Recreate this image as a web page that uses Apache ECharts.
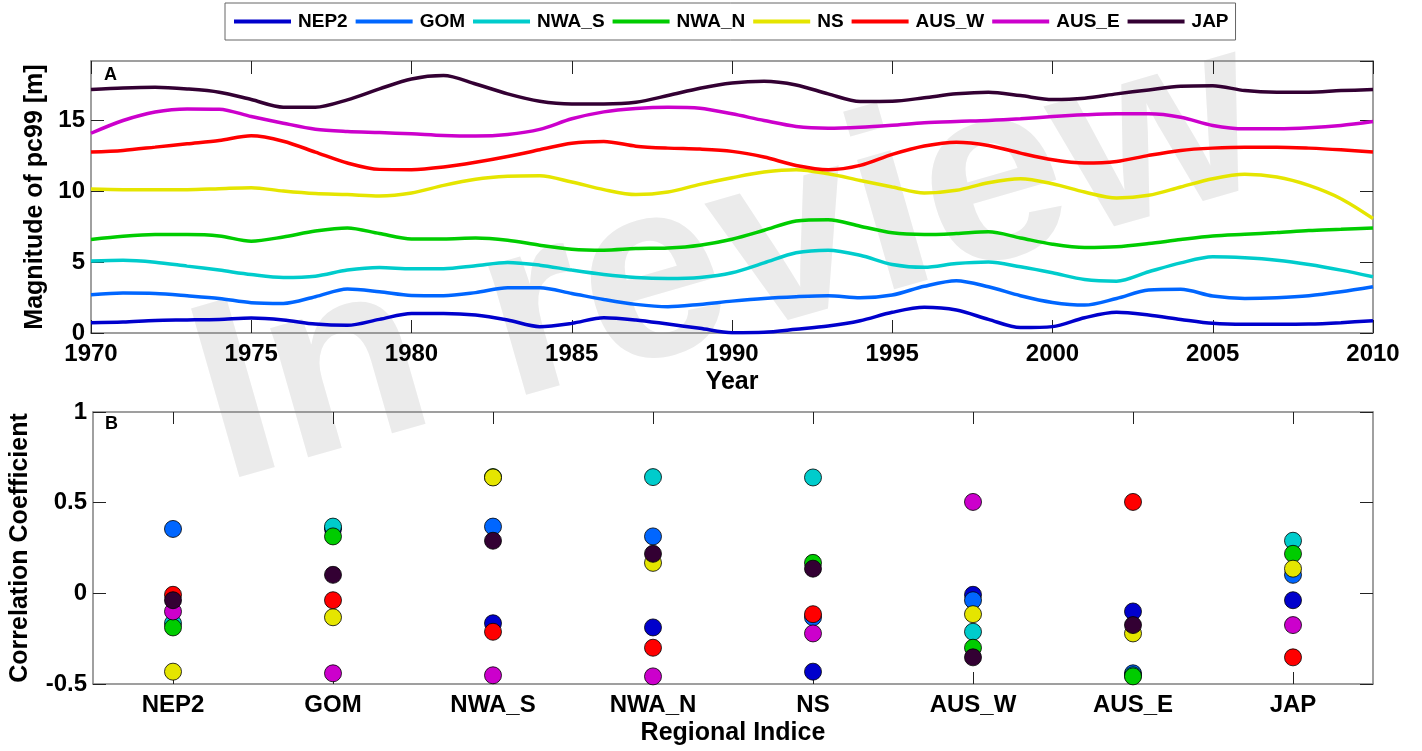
<!DOCTYPE html>
<html>
<head>
<meta charset="utf-8">
<script src="https://cdn.jsdelivr.net/npm/echarts@6/dist/echarts.min.js"></script>
<style>
  html, body { margin: 0; padding: 0; background: #fff; }
  #chart { width: 1422px; height: 751px; }
</style>
</head>
<body>
<div id="chart"></div>
<script>
// Regions, in plotting order
const regions = ['NEP2', 'GOM', 'NWA_S', 'NWA_N', 'NS', 'AUS_W', 'AUS_E', 'JAP'];
const colors = ['#0000CC', '#0066FF', '#00CCCC', '#00CC00', '#E5E500', '#FF0000', '#CC00CC', '#330033'];

// Years 1970..2010
const years = [];
for (let y = 1970; y <= 2010; y++) years.push(y);

// Panel A: magnitude of pc99 [m], one value per year
const pcNEP2 = [0.73, 0.77, 0.89, 0.92, 0.96, 1.06, 0.92, 0.63, 0.54, 0.96,
  1.38, 1.38, 1.27, 0.92, 0.45, 0.68, 1.08, 0.92, 0.63, 0.33,
  0.02, 0.05, 0.26, 0.49, 0.87, 1.46, 1.81, 1.62, 0.96, 0.38,
  0.45, 1.08, 1.46, 1.27, 0.96, 0.68, 0.61, 0.61, 0.63, 0.73, 0.87];
const pcGOM = [2.70, 2.82, 2.79, 2.63, 2.44, 2.14, 2.09, 2.56, 3.10, 2.91,
  2.65, 2.63, 2.85, 3.19, 3.19, 2.79, 2.37, 2.02, 1.85, 2.02,
  2.25, 2.44, 2.56, 2.63, 2.49, 2.68, 3.30, 3.69, 3.26, 2.63,
  2.16, 1.97, 2.44, 3.03, 3.08, 2.61, 2.44, 2.49, 2.63, 2.91, 3.26];
const pcNWA_S = [5.09, 5.14, 5.00, 4.72, 4.44, 4.13, 3.92, 4.01, 4.44, 4.62,
  4.53, 4.53, 4.75, 4.98, 4.79, 4.44, 4.13, 3.92, 3.85, 3.92,
  4.25, 4.95, 5.66, 5.85, 5.49, 4.84, 4.64, 4.91, 5.02, 4.67,
  4.25, 3.78, 3.66, 4.32, 4.95, 5.38, 5.31, 5.14, 4.84, 4.44, 3.97];
const pcNWA_N = [6.60, 6.83, 6.95, 6.95, 6.85, 6.48, 6.78, 7.20, 7.42, 7.02,
  6.64, 6.64, 6.71, 6.55, 6.20, 5.92, 5.85, 5.96, 6.00, 6.20,
  6.62, 7.25, 7.91, 8.00, 7.54, 7.07, 6.95, 7.02, 7.14, 6.71,
  6.27, 6.03, 6.08, 6.31, 6.60, 6.85, 6.97, 7.09, 7.23, 7.32, 7.42];
const pcNS = [10.16, 10.12, 10.12, 10.12, 10.19, 10.26, 10.02, 9.84, 9.77, 9.67,
  9.88, 10.42, 10.85, 11.06, 11.10, 10.66, 10.12, 9.77, 9.95, 10.49,
  10.96, 11.36, 11.53, 11.24, 10.77, 10.31, 9.88, 10.07, 10.61, 10.89,
  10.54, 9.95, 9.53, 9.72, 10.31, 10.89, 11.20, 11.01, 10.42, 9.48, 8.08];
const pcAUS_W = [12.77, 12.89, 13.12, 13.36, 13.59, 13.92, 13.54, 12.77, 12.00, 11.55,
  11.53, 11.71, 12.05, 12.46, 12.93, 13.40, 13.52, 13.19, 13.05, 12.98,
  12.82, 12.42, 11.83, 11.53, 11.83, 12.61, 13.20, 13.47, 13.24, 12.70,
  12.23, 12.00, 12.11, 12.54, 12.89, 13.05, 13.12, 13.12, 13.05, 12.93, 12.77];
const pcAUS_E = [14.10, 15.00, 15.60, 15.82, 15.80, 15.28, 14.81, 14.39, 14.23, 14.15,
  14.06, 13.94, 13.90, 14.01, 14.37, 15.12, 15.61, 15.85, 15.94, 15.87,
  15.47, 15.00, 14.58, 14.46, 14.53, 14.67, 14.84, 14.93, 15.00, 15.12,
  15.28, 15.40, 15.47, 15.47, 15.23, 14.65, 14.41, 14.41, 14.48, 14.65, 14.93];
const pcJAP = [17.18, 17.30, 17.35, 17.23, 17.00, 16.48, 15.94, 15.94, 16.46, 17.23,
  17.93, 18.17, 17.58, 16.88, 16.36, 16.17, 16.17, 16.29, 16.76, 17.28,
  17.65, 17.77, 17.51, 16.88, 16.34, 16.36, 16.60, 16.88, 17.00, 16.76,
  16.48, 16.57, 16.88, 17.16, 17.42, 17.46, 17.11, 17.00, 17.00, 17.11, 17.18];

// Panel B: correlation of each region with every regional indice (null = itself)
const corrNEP2  = [null, 0.355, -0.165, -0.188, -0.432, -0.008, -0.100, -0.038];
const corrGOM   = [0.355, null, 0.368, 0.314, -0.132, -0.038, -0.441, 0.102];
const corrNWA_S = [-0.165, 0.368, null, 0.641, 0.639, -0.212, -0.452, 0.290];
const corrNWA_N = [-0.188, 0.314, 0.641, null, 0.168, -0.300, -0.458, 0.218];
const corrNS    = [-0.432, -0.132, 0.639, 0.168, null, -0.115, -0.221, 0.136];
const corrAUS_W = [-0.008, -0.038, -0.212, -0.300, -0.115, null, 0.504, -0.353];
const corrAUS_E = [-0.100, -0.441, -0.452, -0.458, -0.221, 0.504, null, -0.175];
const corrJAP   = [-0.038, 0.102, 0.290, 0.218, 0.136, -0.353, -0.175, null];

const pcSeries = [pcNEP2, pcGOM, pcNWA_S, pcNWA_N, pcNS, pcAUS_W, pcAUS_E, pcJAP];
const corrSeries = [corrNEP2, corrGOM, corrNWA_S, corrNWA_N, corrNS, corrAUS_W, corrAUS_E, corrJAP];

const FONT = "'Liberation Sans', Arial, Helvetica, sans-serif";
const frameColor = '#808080';
const tickColor = '#222';

const labelStyle = { color: '#000', fontFamily: FONT, fontWeight: 'bold', fontSize: 24 };
const nameStyle = { color: '#000', fontFamily: FONT, fontWeight: 'bold', fontSize: 25 };

function frameAxis(extra) {
  return Object.assign({
    axisLine: { show: true, onZero: false, lineStyle: { color: frameColor, width: 1.5 } },
    axisTick: { show: true, inside: true, length: 13, lineStyle: { color: tickColor, width: 1 } },
    axisLabel: { show: false },
    splitLine: { show: false }
  }, extra);
}

const series = [];
regions.forEach((name, i) => {
  series.push({
    name: name,
    type: 'line',
    xAxisIndex: 0,
    yAxisIndex: 0,
    data: years.map((y, k) => [y, pcSeries[i][k]]),
    showSymbol: false,
    symbol: 'none',
    smooth: 0.3,
    lineStyle: { color: colors[i], width: 3.5 },
    itemStyle: { color: colors[i] },
    z: 3 + i
  });
});
regions.forEach((name, i) => {
  series.push({
    name: name,
    type: 'scatter',
    xAxisIndex: 2,
    yAxisIndex: 2,
    data: corrSeries[i].map((v, k) => (v === null ? null : [regions[k], v])).filter(d => d !== null),
    symbol: 'circle',
    symbolSize: 17,
    itemStyle: { color: colors[i], borderColor: '#000', borderWidth: 0.8, opacity: 1 },
    z: 3 + i
  });
});

const chart = echarts.init(document.getElementById('chart'), null, { renderer: 'canvas' });
chart.setOption({
  animation: false,
  backgroundColor: '#fff',
  graphic: [
    {
      type: 'text',
      z: -10,
      silent: true,
      x: 223,
      y: 482,
      rotation: 16 * Math.PI / 180,
      style: {
        text: 'In review',
        font: "bold 255px " + FONT,
        fill: '#ebebeb',
        textAlign: 'left',
        verticalAlign: 'bottom',
        y: 57
      }
    },
    {
      type: 'text', z: 20, left: 104, top: 66,
      style: { text: 'A', font: "bold 18px " + FONT, fill: '#000' }
    },
    {
      type: 'text', z: 20, left: 105, top: 415,
      style: { text: 'B', font: "bold 18px " + FONT, fill: '#000' }
    }
  ],
  legend: {
    data: regions,
    left: 225,
    top: 3,
    icon: 'rect',
    itemWidth: 57,
    itemHeight: 4,
    itemGap: 8,
    padding: [9, 7, 9, 9],
    borderColor: '#666',
    borderWidth: 1,
    backgroundColor: '#fff',
    textStyle: { color: '#000', fontFamily: FONT, fontWeight: 'bold', fontSize: 19, padding: [0, 0, 0, 2] },
    itemStyle: { borderWidth: 0 }
  },
  grid: [
    { left: 91, right: 49, top: 61, height: 272, containLabel: false },
    { left: 91, right: 49, top: 412, bottom: 67, containLabel: false }
  ],
  xAxis: [
    frameAxis({
      type: 'value', gridIndex: 0, position: 'bottom', min: 1970, max: 2010, interval: 5,
      axisLabel: Object.assign({ show: true, margin: 9, formatter: v => String(v) }, labelStyle),
      name: 'Year', nameLocation: 'middle', nameGap: 37, nameTextStyle: nameStyle
    }),
    frameAxis({ type: 'value', gridIndex: 0, position: 'top', min: 1970, max: 2010, interval: 5 }),
    frameAxis({
      type: 'category', gridIndex: 1, position: 'bottom', data: regions, boundaryGap: true,
      axisTick: { show: true, inside: true, length: 12, alignWithLabel: true, lineStyle: { color: tickColor, width: 1 } },
      axisLabel: Object.assign({ show: true, margin: 9, interval: 0 }, labelStyle),
      name: 'Regional Indice', nameLocation: 'middle', nameGap: 37, nameTextStyle: nameStyle
    }),
    frameAxis({
      type: 'category', gridIndex: 1, position: 'top', data: regions, boundaryGap: true,
      axisTick: { show: true, inside: true, length: 12, alignWithLabel: true, lineStyle: { color: tickColor, width: 1 } }
    })
  ],
  yAxis: [
    frameAxis({
      type: 'value', gridIndex: 0, position: 'left', min: 0, max: 19.2, interval: 5,
      axisLabel: Object.assign({ show: true, margin: 6, showMaxLabel: false }, labelStyle),
      name: 'Magnitude of pc99 [m]', nameLocation: 'middle', nameGap: 42, nameTextStyle: nameStyle
    }),
    frameAxis({ type: 'value', gridIndex: 0, position: 'right', min: 0, max: 19.2, interval: 5 }),
    frameAxis({
      type: 'value', gridIndex: 1, position: 'left', min: -0.5, max: 1, interval: 0.5,
      axisLabel: Object.assign({ show: true, margin: 6 }, labelStyle),
      name: 'Correlation Coefficient', nameLocation: 'middle', nameGap: 60, nameTextStyle: nameStyle
    }),
    frameAxis({ type: 'value', gridIndex: 1, position: 'right', min: -0.5, max: 1, interval: 0.5 })
  ],
  series: series
});
</script>
</body>
</html>
